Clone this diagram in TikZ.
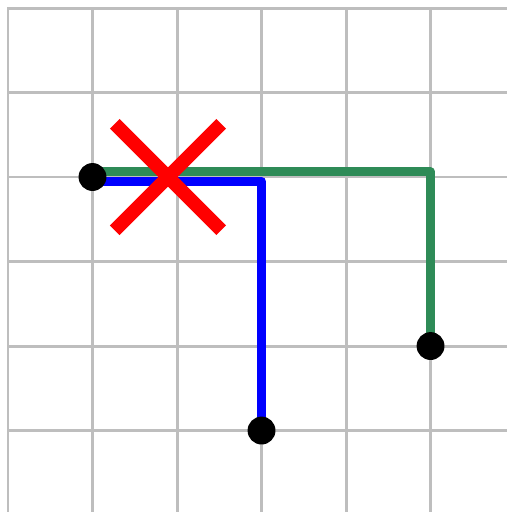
\documentclass[tikz,border=0pt]{standalone}
\usetikzlibrary{calc,backgrounds}
\definecolor{gridgray}{HTML}{BEBEBE}
\definecolor{seagreen}{HTML}{2E8B57}

\begin{document}
\begin{tikzpicture}[x=1cm,y=1cm,
  dot/.style={circle,fill=black,inner sep=0pt,minimum size=0.33cm},
  route/.style={line width=3pt,line join=round}]
\clip (-0.0947,0.0947) rectangle (5.893,-5.964);
\node[dot] (start) at (1,-2) {};
\node[dot] (goalA) at (5,-4) {};
\node[dot] (goalB) at (3,-5) {};
\begin{pgfonlayer}{background}
\draw[gridgray,line width=1pt,line cap=rect] (0,0) grid (6,-6);
\draw[route,seagreen] ([yshift=0.06cm]start.center) -| (goalA.center);
\draw[route,blue] ([yshift=-0.05cm]start.center) -| (goalB.center);
\end{pgfonlayer}
\coordinate (cross) at (1.893,-2);
\draw[red,line width=4.6pt] ($(cross)+(-0.63,0.63)$)--($(cross)+(0.63,-0.63)$);
\draw[red,line width=4.6pt] ($(cross)+(-0.63,-0.63)$)--($(cross)+(0.63,0.63)$);
\end{tikzpicture}
\end{document}
